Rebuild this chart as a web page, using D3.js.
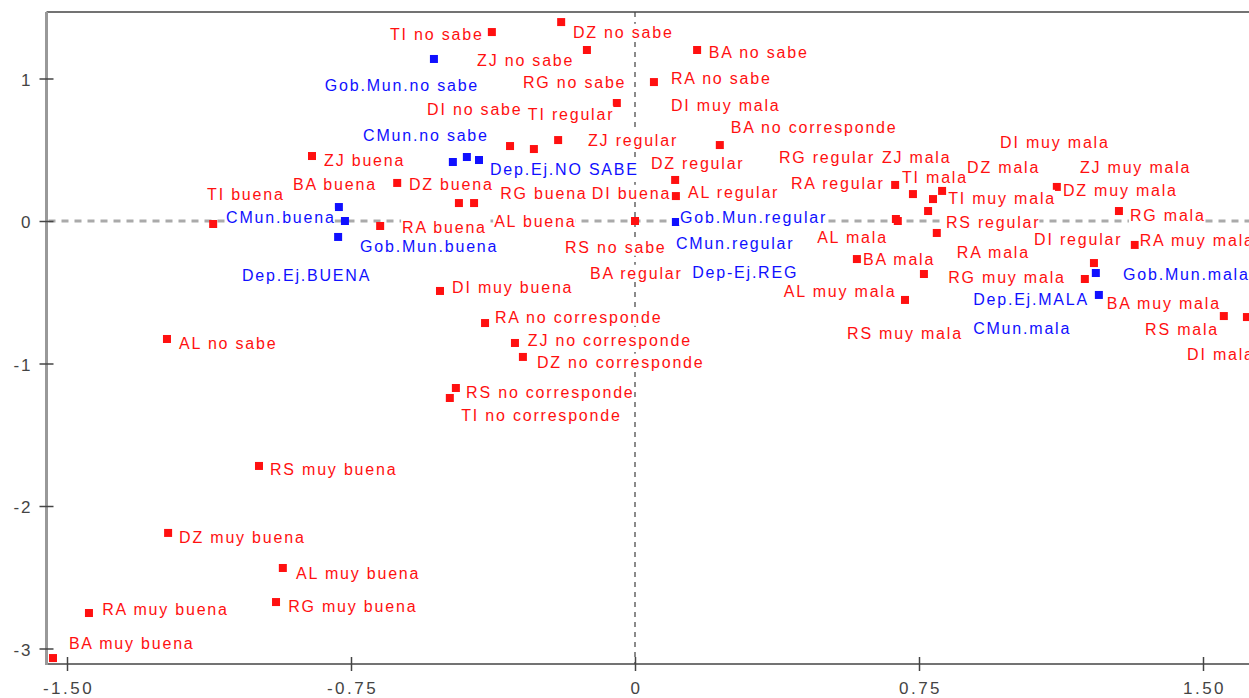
<!DOCTYPE html>
<html>
<head>
<meta charset="utf-8">
<script src="https://cdn.jsdelivr.net/npm/d3@7/dist/d3.min.js"></script>
<style>
  body { margin: 0; background: #fff; }
  text { font-family: "Liberation Sans", Arial, sans-serif; }
</style>
</head>
<body>
<div class="canvas"></div>
<script>
// active categories (red)
const activeNames = [
  "TI no sabe", "DZ no sabe", "ZJ no sabe", "BA no sabe", "RA no sabe", "RG no sabe",
  "DI no sabe", "DI muy mala", "TI regular", "ZJ regular", "BA no corresponde", "DZ regular",
  "AL regular", "DI buena", "RG buena", "AL buena", "DZ buena", "ZJ buena", "BA buena",
  "TI buena", "RA buena", "RS no sabe", "BA regular", "AL no sabe", "DI muy buena",
  "RA no corresponde", "ZJ no corresponde", "DZ no corresponde", "RS no corresponde",
  "TI no corresponde", "RS muy buena", "DZ muy buena", "AL muy buena", "RG muy buena",
  "RA muy buena", "BA muy buena", "RG regular", "AL mala", "ZJ mala", "DZ mala",
  "ZJ muy mala", "RA regular", "TI mala", "TI muy mala", "DZ muy mala", "RG mala",
  "RS regular", "BA mala", "RA mala", "DI regular", "RA muy mala", "RG muy mala",
  "AL muy mala", "RS muy mala", "BA muy mala", "RS mala", "DI mala", "DI muy mala"
];
const activeX = [
  -0.378, -0.195, -0.127, 0.164, 0.050, -0.267,
  -0.330, 0.172, -0.048, -0.203, 0.224, 0.106,
  0.108, -0.013, -0.425, -0.465, -0.628, -0.853, -0.805,
  -1.114, -0.673, 0.000, 0.066, -1.236, -0.515,
  -0.396, -0.317, -0.296, -0.473,
  -0.489, -0.993, -1.233, -0.930, -0.948,
  -1.442, -1.537, 0.689, 0.694, 0.734, 0.964,
  1.281, 0.687, 0.811, 0.787, 1.114, 1.278,
  0.774, 0.586, 0.797, 1.212, 1.320, 0.763,
  0.713, 0.700, 1.188, 1.555, 1.616, 1.096
];
const activeY = [
  1.326, 1.396, 1.200, 1.200, 0.975, 0.505,
  0.526, 0.814, 0.828, 0.568, 0.533, 0.288,
  0.175, 0.196, 0.126, 0.126, 0.267, 0.456, 0.260,
  -0.021, -0.035, 0.000, -0.365, -0.828, -0.491,
  -0.716, -0.856, -0.954, -1.172,
  -1.242, -1.719, -2.189, -2.435, -2.674,
  -2.751, -3.067, 0.014, 0.000, 0.189, 0.379,
  0.379, 0.253, 0.211, 0.154, 0.239, 0.070,
  0.070, -0.267, -0.084, -0.295, -0.168, -0.372,
  -0.554, -0.786, -0.407, -0.667, -0.674, 0.554
];
// where the program put each label (data units, start of text)
const activeLabelX = [
  -0.647, -0.164, -0.417, 0.195, 0.095, -0.296,
  -0.549, 0.095, -0.283, -0.124, 0.253, 0.042,
  0.140, -0.114, -0.356, -0.372, -0.597, -0.821, -0.903,
  -1.130, -0.615, -0.185, -0.119, -1.204, -0.483,
  -0.370, -0.283, -0.259, -0.446,
  -0.459, -0.964, -1.204, -0.895, -0.916,
  -1.407, -1.495, 0.380, 0.481, 0.652, 0.877,
  1.175, 0.412, 0.705, 0.827, 1.130, 1.307,
  0.821, 0.602, 0.850, 1.054, 1.333, 0.827,
  0.393, 0.560, 1.246, 1.347, 1.458, 0.964
];
const activeLabelY = [
  1.312, 1.326, 1.130, 1.186, 1.004, 0.975,
  0.786, 0.814, 0.751, 0.568, 0.660, 0.407,
  0.204, 0.196, 0.196, 0.000, 0.260, 0.428, 0.260,
  0.189, -0.042, -0.182, -0.365, -0.856, -0.463,
  -0.674, -0.835, -0.989, -1.200,
  -1.361, -1.740, -2.218, -2.470, -2.702,
  -2.723, -2.961, 0.449, -0.112, 0.449, 0.379,
  0.379, 0.267, 0.309, 0.161, 0.218, 0.042,
  -0.007, -0.267, -0.218, -0.126, -0.133, -0.393,
  -0.491, -0.786, -0.575, -0.758, -0.933, 0.554
];

// supplementary categories (blue)
const suppNames = [
  "Gob.Mun.no sabe", "CMun.no sabe", "Dep.Ej.NO SABE", "", "CMun.buena", "Dep.Ej.BUENA",
  "Gob.Mun.buena", "Gob.Mun.regular", "CMun.regular", "Dep-Ej.REG", "Gob.Mun.mala",
  "Dep.Ej.MALA", "CMun.mala"
];
const suppX = [-0.531, -0.481, -0.412, -0.444, -0.766, -0.782, -0.784, 0.108, 0.172, 0.224, 1.217, 1.225, 0.990];
const suppY = [1.137, 0.414, 0.428, 0.449, 0.000, 0.098, -0.112, -0.007, -0.154, -0.358, -0.365, -0.519, -0.751];
const suppLabelX = [-0.819, -0.718, -0.383, 0, -1.080, -1.038, -0.726, 0.119, 0.108, 0.151, 1.289, 0.893, 0.893];
const suppLabelY = [0.954, 0.603, 0.365, 0, 0.028, -0.379, -0.175, 0.028, -0.154, -0.358, -0.372, -0.547, -0.751];

// axis ticks
const xTicks = [-1.5, -0.75, 0, 0.75, 1.5];
const xTickLabels = ["-1.50", "-0.75", "0", "0.75", "1.50"];
const yTicks = [-3, -2, -1, 0, 1];
const yTickLabels = ["-3", "-2", "-1", "0", "1"];

const w = 1249;
const h = 698;
const red = "#ff1010";
const blue = "#1010ff";

const svg = d3.select(".canvas").append("svg").attr("width", w).attr("height", h);

// scales
const x = d3.scaleLinear().domain([-1.5, 1.5]).range([67, 1203]);
const y = d3.scaleLinear().domain([-3, 1]).range([648.5, 78.5]);

const plotLeft = 46.5, plotTop = 12, plotBottom = 664;

// zero lines
svg.append("line")
  .attr("x1", plotLeft + 2).attr("x2", w).attr("y1", y(0)).attr("y2", y(0))
  .attr("stroke", "#aaa").attr("stroke-width", 3).attr("stroke-dasharray", "7,6");
svg.append("line")
  .attr("x1", x(0)).attr("x2", x(0)).attr("y1", plotTop).attr("y2", plotBottom)
  .attr("stroke", "#666").attr("stroke-width", 1.5).attr("stroke-dasharray", "5,5");

// frame lines
svg.append("line").attr("x1", plotLeft).attr("x2", w).attr("y1", plotTop).attr("y2", plotTop)
  .attr("stroke", "#444").attr("stroke-width", 1.5);
svg.append("line").attr("x1", plotLeft).attr("x2", w).attr("y1", plotBottom).attr("y2", plotBottom)
  .attr("stroke", "#444").attr("stroke-width", 1.5);
svg.append("line").attr("x1", plotLeft).attr("x2", plotLeft).attr("y1", plotTop).attr("y2", plotBottom + 1)
  .attr("stroke", "#999").attr("stroke-width", 3);

// axes
const yAxisGroup = svg.append("g").attr("transform", `translate(${plotLeft}, 0)`);
yAxisGroup.call(d3.axisLeft(y).tickValues(yTicks).tickFormat((d, i) => yTickLabels[i]).tickSize(0));
yAxisGroup.select(".domain").remove();
yAxisGroup.selectAll(".tick line").attr("x1", -7).attr("x2", 7).attr("stroke", "#444").attr("stroke-width", 1.5);
yAxisGroup.selectAll(".tick text")
  .attr("x", -14).attr("dy", "0.4em")
  .attr("fill", "#444").style("font-size", "17px").style("letter-spacing", "2px")
  .style("font-family", "'Liberation Sans', Arial, sans-serif");

const xAxisGroup = svg.append("g").attr("transform", `translate(0, ${plotBottom})`);
xAxisGroup.call(d3.axisBottom(x).tickValues(xTicks).tickFormat((d, i) => xTickLabels[i]).tickSize(0));
xAxisGroup.select(".domain").remove();
xAxisGroup.selectAll(".tick line").attr("y1", -7).attr("y2", 7).attr("stroke", "#444").attr("stroke-width", 1.5);
xAxisGroup.selectAll(".tick text")
  .attr("x", 1).attr("y", 18).attr("dy", "0.71em")
  .attr("fill", "#444").style("font-size", "17px").style("letter-spacing", "2.5px")
  .style("font-family", "'Liberation Sans', Arial, sans-serif");

// build point lists
const points = activeNames.map((name, i) => ({
  name, x: activeX[i], y: activeY[i], lx: activeLabelX[i], ly: activeLabelY[i], color: red
})).concat(suppNames.map((name, i) => ({
  name, x: suppX[i], y: suppY[i], lx: suppLabelX[i], ly: suppLabelY[i], color: blue
})));

// markers
const s = 8;
svg.append("g").selectAll("rect")
  .data(points)
  .enter()
  .append("rect")
  .attr("x", d => x(d.x) - s / 2)
  .attr("y", d => y(d.y) - s / 2)
  .attr("width", s)
  .attr("height", s)
  .attr("fill", d => d.color);

// labels sit on white boxes, like the original program
const boxGroup = svg.append("g");
const labelGroup = svg.append("g");
const labels = labelGroup.selectAll("text")
  .data(points.filter(d => d.name !== ""))
  .enter()
  .append("text")
  .attr("x", d => x(d.lx))
  .attr("y", d => y(d.ly))
  .attr("dy", "0.36em")
  .attr("fill", d => d.color)
  .style("font-size", "16px")
  .style("letter-spacing", "1.8px")
  .text(d => d.name);

labels.each(function () {
  const b = this.getBBox();
  boxGroup.append("rect")
    .attr("x", b.x - 1)
    .attr("y", b.y)
    .attr("width", b.width)
    .attr("height", b.height)
    .attr("fill", "#fff");
});
</script>
</body>
</html>
